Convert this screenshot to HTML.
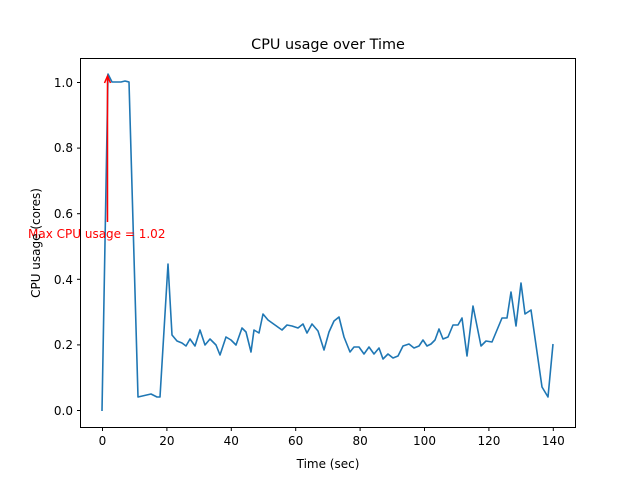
<!DOCTYPE html><html><head><style>body{margin:0;background:#fff}svg{display:block}text{font-family:"DejaVu Sans","Liberation Sans",sans-serif}</style></head><body>
<svg width="640" height="480" xmlns="http://www.w3.org/2000/svg">
<rect width="640" height="480" fill="#fff"/>
<text x="328" y="49" font-size="14.4" text-anchor="middle">CPU usage over Time</text>
<polyline fill="none" stroke="#1f77b4" stroke-width="1.6" stroke-linejoin="round" points="102,411 108,74 112,82 117,82 121,82 125,81 129,82 138,397 151,394 157,397 160,397 168,264 172,335 177,341 182,343 186,346 190,339 195,346 200,330 205,345 210,339 216,345 220,355 226,337 231,340 236,345 242,328 246,332 251,352 254,330 259,333 263,314 268,320 275,325 282,330 287,325 292,326 298,328 303,324 307,333 312,324 318,331 324,350 329,332 334,321 339,317 344,337 350,352 354,347 359,347 364,354 369,347 374,354 379,348 383,359 388,354 393,358 398,356 403,346 409,344 414,348 419,346 423,340 427,346 431,344 435,340 439,329 443,339 448,337 453,325 458,325 462,318 467,356 473,306 481,346 486,341 492,342 497,330 502,318 507,318 511,292 516,326 521,283 525,314 531,310 542,387 548,397 553,344"/>
<line x1="107.5" y1="222" x2="107.5" y2="76" stroke="red" stroke-width="1.5"/>
<polyline points="104.5,83 107.5,76 110.5,83" fill="none" stroke="red" stroke-width="1.5"/>
<text x="28" y="238" font-size="12" fill="red">Max CPU usage = 1.02</text>
<rect x="80.5" y="58.5" width="495" height="369" fill="none" stroke="#000" stroke-width="1"/>
<g stroke="#000" stroke-width="1">
<line x1="102.5" y1="428" x2="102.5" y2="431"/><line x1="166.9" y1="428" x2="166.9" y2="431"/><line x1="231.3" y1="428" x2="231.3" y2="431"/><line x1="295.7" y1="428" x2="295.7" y2="431"/><line x1="360.1" y1="428" x2="360.1" y2="431"/><line x1="424.5" y1="428" x2="424.5" y2="431"/><line x1="488.9" y1="428" x2="488.9" y2="431"/><line x1="553.3" y1="428" x2="553.3" y2="431"/>
<line x1="77" y1="410.5" x2="80" y2="410.5"/><line x1="77" y1="344.9" x2="80" y2="344.9"/><line x1="77" y1="279.3" x2="80" y2="279.3"/><line x1="77" y1="213.7" x2="80" y2="213.7"/><line x1="77" y1="148.1" x2="80" y2="148.1"/><line x1="77" y1="82.5" x2="80" y2="82.5"/>
</g>
<g font-size="12" text-anchor="middle">
<text x="102.5" y="445">0</text><text x="166.9" y="445">20</text><text x="231.3" y="445">40</text><text x="295.7" y="445">60</text><text x="360.1" y="445">80</text><text x="424.5" y="445">100</text><text x="488.9" y="445">120</text><text x="553.3" y="445">140</text>
</g>
<g font-size="12" text-anchor="end">
<text x="73" y="415">0.0</text><text x="73" y="349">0.2</text><text x="73" y="284">0.4</text><text x="73" y="218">0.6</text><text x="73" y="152">0.8</text><text x="73" y="87">1.0</text>
</g>
<text x="328" y="468" font-size="12" text-anchor="middle">Time (sec)</text>
<text transform="translate(40,243) rotate(-90)" font-size="12" text-anchor="middle">CPU usage (cores)</text>
</svg></body></html>
